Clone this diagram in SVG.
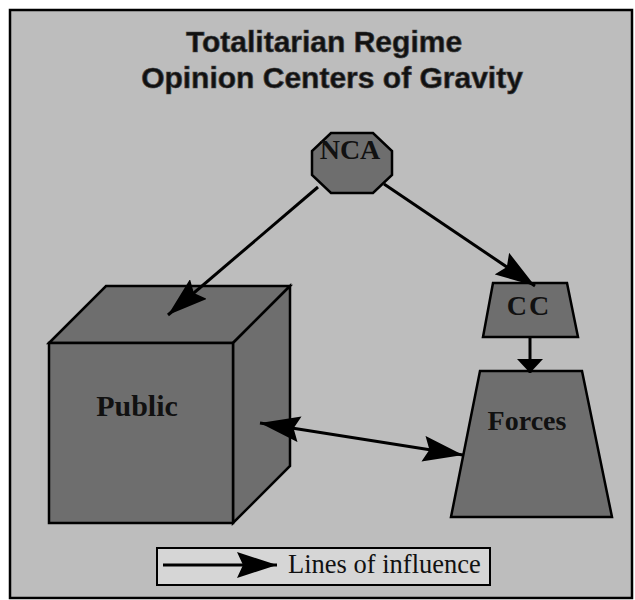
<svg xmlns="http://www.w3.org/2000/svg" width="635" height="600" viewBox="0 0 635 600">
<defs>
<style>
.shape{fill:#6e6e6e;stroke:#000;stroke-width:2.5;stroke-linejoin:miter}
.lbl{font-family:"Liberation Serif","Times New Roman",serif;font-weight:bold;fill:#111;text-anchor:middle}
.title{font-family:"Liberation Sans",Arial,sans-serif;font-weight:bold;font-size:30px;fill:#111;text-anchor:middle;stroke:#444;stroke-width:0.7}
.conn{stroke:#000;stroke-width:3;fill:none}
</style>
<marker id="ah" viewBox="0 0 40 26" refX="40" refY="13" markerWidth="40" markerHeight="26" markerUnits="userSpaceOnUse" orient="auto-start-reverse">
<path d="M0,0 L40,13 L0,26 L6,13 Z" fill="#000"/>
</marker>
<marker id="ahs" viewBox="0 0 14 26" refX="14" refY="13" markerWidth="14" markerHeight="26" markerUnits="userSpaceOnUse" orient="auto">
<path d="M0,0 L14,13 L0,26 Z" fill="#000"/>
</marker>
</defs>
<rect x="0" y="0" width="635" height="600" fill="#ffffff"/>
<rect x="10" y="10" width="622" height="588" fill="#bdbdbd" stroke="#000" stroke-width="2.5"/>
<g id="title">
<text class="title" x="324" y="52">Totalitarian Regime</text>
<text class="title" x="332" y="88">Opinion Centers of Gravity</text>
</g>
<g id="nca">
<polygon class="shape" points="331,133 373,133 392,151 392,175 373,193 331,193 312,175 312,151"/>
<text class="lbl" x="350" y="159" font-size="28">NCA</text>
</g>
<g id="public">
<polygon class="shape" points="49,343 106,286 290,286 233,343"/>
<polygon class="shape" points="233,343 290,286 290,466 233,523"/>
<rect class="shape" x="49" y="343" width="184" height="180"/>
<text class="lbl" x="137" y="416" font-size="30">Public</text>
</g>
<g id="cc">
<polygon class="shape" points="493,283 567,283 578,337 483,337"/>
<text class="lbl" x="529" y="315" font-size="28" letter-spacing="2">CC</text>
</g>
<g id="forces">
<polygon class="shape" points="480,371 582,371 612,517 451,517"/>
<text class="lbl" x="527" y="430" font-size="28">Forces</text>
</g>
<g id="connectors">
<line class="conn" x1="318" y1="187" x2="168" y2="315" marker-end="url(#ah)"/>
<line class="conn" x1="384" y1="184" x2="535" y2="286" marker-end="url(#ah)"/>
<line class="conn" x1="530" y1="337" x2="530" y2="373" marker-end="url(#ahs)"/>
<line class="conn" x1="260" y1="423" x2="463" y2="455" marker-start="url(#ah)" marker-end="url(#ah)"/>
</g>
<g id="legend">
<rect x="157" y="548" width="333" height="37" fill="#d6d6d6" stroke="#000" stroke-width="2"/>
<line class="conn" x1="163" y1="565" x2="277" y2="565" stroke-width="2" marker-end="url(#ah)"/>
<text x="288" y="573" font-family="'Liberation Serif','Times New Roman',serif" font-size="26.5" fill="#111">Lines of influence</text>
</g>
</svg>
